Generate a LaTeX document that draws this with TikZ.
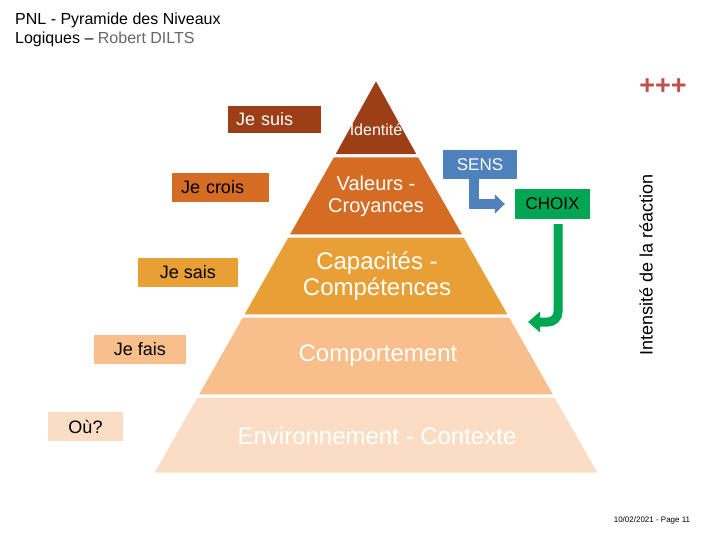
\documentclass[tikz,border=0pt]{standalone}
\usepackage{fontspec}
\setmainfont{Liberation Sans}
\usetikzlibrary{arrows.meta}
\definecolor{niv1}{RGB}{156,62,22}
\definecolor{niv2}{RGB}{212,108,36}
\definecolor{niv3}{RGB}{232,160,54}
\definecolor{niv4}{RGB}{248,190,140}
\definecolor{niv5}{RGB}{251,221,197}
\definecolor{sensblue}{RGB}{79,129,189}
\definecolor{choixgreen}{RGB}{0,166,81}
\definecolor{plusred}{RGB}{192,80,77}
\tikzset{
	levelbox/.style={inner sep=0pt,text=black,font=\fontsize{18}{20}\selectfont},
	pyrtext/.style={text=white,align=center},
}
\begin{document}
\begin{tikzpicture}[x=1pt,y=-1pt,>=Triangle]
\useasboundingbox (0,0) rectangle (720,540);
% titre
\node[anchor=north west,align=left,inner sep=0pt,font=\fontsize{16}{19}\selectfont] (titre) at (15,13)
	{PNL - Pyramide des Niveaux\\Logiques -- \textcolor{black!60}{Robert DILTS}};
% pyramide
\fill[color=niv1,draw=white,line width=3pt] (376,78) -- (419.2,156) -- (332.8,156) -- cycle;
\fill[color=niv2,draw=white,line width=3pt] (332.8,156) -- (419.2,156) -- (464.7,236) -- (287.3,236) -- cycle;
\fill[color=niv3,draw=white,line width=3pt] (287.3,236) -- (464.7,236) -- (510.2,316) -- (241.8,316) -- cycle;
\fill[color=niv4,draw=white,line width=3pt] (241.8,316) -- (510.2,316) -- (555.6,396) -- (196.4,396) -- cycle;
\fill[color=niv5,draw=white,line width=3pt] (196.4,396) -- (555.6,396) -- (600,474) -- (152,474) -- cycle;
\node[pyrtext,font=\fontsize{16}{18}\selectfont] (identite) at (376,130) {Identité};
\node[pyrtext,font=\fontsize{20}{22}\selectfont] (valeurs) at (376,196) {Valeurs -\\Croyances};
\node[pyrtext,font=\fontsize{24}{26}\selectfont] (capacites) at (377,276) {Capacités -\\Compétences};
\node[pyrtext,font=\fontsize{24}{26}\selectfont] (comportement) at (378,356) {Comportement};
\node[pyrtext,font=\fontsize{24}{26}\selectfont] (environnement) at (377,436) {Environnement - Contexte};
% niveaux
\node[levelbox,fill=niv1,text=white,inner xsep=8pt,text width=77pt,align=left,minimum height=27pt] (suis) at (274.5,119.5) {Je suis};
\node[levelbox,fill=niv2,inner xsep=9pt,text width=79pt,align=left,minimum height=29pt] (crois) at (220.5,187.5) {Je crois};
\node[levelbox,fill=niv3,minimum width=100pt,minimum height=29pt] (sais) at (188,272.5) {Je sais};
\node[levelbox,fill=niv4,minimum width=92pt,minimum height=29pt] (fais) at (140,349.5) {Je fais};
\node[levelbox,fill=niv5,minimum width=75pt,minimum height=29pt] (ou) at (85.5,426.5) {Où?};
% sens et choix
\node[levelbox,fill=sensblue,text=white,font=\fontsize{17}{19}\selectfont,minimum width=74pt,minimum height=29pt] (sens) at (480,164.5) {SENS};
\node[levelbox,fill=choixgreen,font=\fontsize{17}{19}\selectfont,minimum width=75pt,minimum height=30pt] (choix) at (552.5,204) {CHOIX};
\draw[->,color=sensblue,line width=10pt,shorten >=10pt,arrows={-Triangle[length=10pt,width=19pt]}]
	([xshift=-6pt]sens.south) |- (choix.west);
\coordinate (retour) at (528,322);
\draw[->,color=choixgreen,line width=9pt,rounded corners=10pt,shorten <=5pt,arrows={-Triangle[length=12pt,width=20pt]}]
	([xshift=5.5pt]choix.south) |- (retour);
% intensite
\node[rotate=90,font=\fontsize{18}{20}\selectfont] (intensite) at (646,265) {Intensité de la réaction};
\node[color=plusred,font=\bfseries\fontsize{27}{29}\selectfont] (plus) at (663,87) {+++};
% pied de page
\node[font=\fontsize{8}{9}\selectfont] (page) at (652,520) {10/02/2021 - Page 11};
\end{tikzpicture}
\end{document}
